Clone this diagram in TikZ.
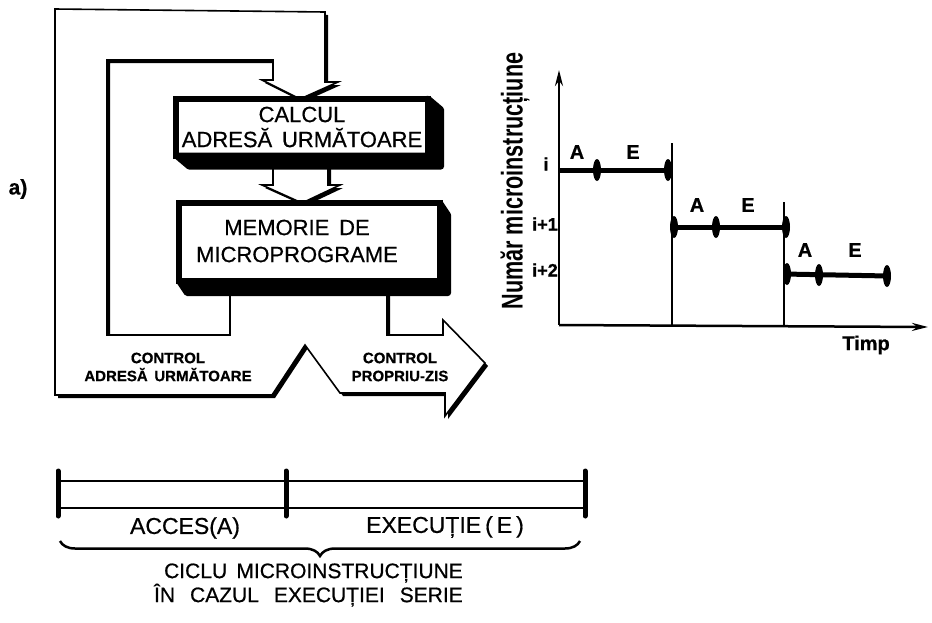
\documentclass[tikz,border=0pt]{standalone}
\usepackage{fontspec}
\setmainfont{Liberation Sans}[WordSpace=1.6,FakeBold=0.6]
\newfontfamily\narrowfont{Liberation Sans}[FakeStretch=0.72]
\usetikzlibrary{shadows,decorations.pathreplacing,arrows.meta}

\tikzset{
  band/.style={draw, line width=1.6, fill=white, line join=miter,
    drop shadow={shadow xshift=3pt,shadow yshift=-3pt,opacity=1,fill=black}},
  face/.style={draw, line width=6, fill=white, inner sep=0pt, outer sep=0pt},
  depth/.style={fill=black, draw, line width=6, line join=round},
  boxtext/.style={font=\fontsize{22}{25}\selectfont, align=center},
  smalltext/.style={font=\fontsize{15}{18}\selectfont\bfseries, align=center},
  phasetext/.style={font=\fontsize{20}{20}\selectfont\bfseries},
  ticktext/.style={font=\fontsize{18}{18}\selectfont\bfseries},
  level/.style={line width=5},
  axis/.style={line width=2.5, -{Stealth[length=16pt,width=8pt]}},
  cut/.style={line width=1.2},
  bar/.style={line width=5, line cap=round}
}

\begin{document}
\begin{tikzpicture}[x=1pt,y=-1pt]
\useasboundingbox (0,0) rectangle (932,622);

\node[font=\fontsize{21}{21}\selectfont\bfseries] (tag) at (18,189) {a)};

% the feedback channel and the output arrow
\path[band] (230,290) -- (230,335) -- (107,335) -- (107,60) -- (273,60) -- (273,80)
  -- (262,80) -- (300,99) -- (338,82) -- (325,82) -- (325,12) -- (55,9) -- (55,395)
  -- (272,395) -- (305,345) -- (340,393) -- (445,393) -- (445,416) -- (485,363)
  -- (443,320) -- (443,335) -- (387,335) -- (387,290) -- cycle;
\path[band] (273,160) -- (273,185) -- (262,185) -- (302,203) -- (340,185)
  -- (328,185) -- (328,160) -- cycle;

% blocks
\node[face, minimum width=252, minimum height=57, boxtext] (calc) at (302,127)
  {CALCUL\\ADRESĂ URMĂTOARE};
\node[face, minimum width=261, minimum height=78] (mem) at (309.5,242) {};
\foreach \b/\dx/\dy in {calc/13/11, mem/8/12}
  \filldraw[depth] (\b.south west) -- ([shift={(\dx,\dy)}]\b.south west)
    -- ([shift={(\dx,\dy)}]\b.south east) -- ([shift={(\dx,\dy)}]\b.north east)
    -- (\b.north east) -- (\b.south east) -- cycle;
\node[boxtext, font=\fontsize{22}{27}\selectfont] (memtext) at (297,241)
  {MEMORIE DE\\MICROPROGRAME};

\node[smalltext] (ctrladr) at (168,367) {CONTROL\\ADRESĂ URMĂTOARE};
\node[smalltext] (ctrlown) at (400,367) {CONTROL\\PROPRIU-ZIS};

% timing graph
\coordinate (org) at (559,325);
\coordinate (ytip) at (559,70);
\coordinate (xtip) at (928,327);
\draw[axis] (org) -- (ytip);
\draw[axis] (org) -- (xtip);
\node[rotate=90, font=\narrowfont\bfseries\fontsize{30}{30}\selectfont] (ylab)
  at (515,181) {Număr microinstrucțiune};
\node[font=\fontsize{20}{20}\selectfont\bfseries] (xlab) at (866,345) {Timp};

\node[ticktext] (ti) at (546,164) {i};
\node[ticktext] (ti1) at (545,224) {i+1};
\node[ticktext] (ti2) at (545,270) {i+2};

\draw[cut] (672,143) -- (672,325);
\draw[cut] (784,202) -- (784,325);

\draw[level] (559,170) -- (670,170);
\draw[level] (672,227) -- (786,227);
\draw[level] (784,274) -- (888,276);
\foreach \x/\y in {597/170, 668/170, 674/227, 716/227, 786/227, 787/274, 819/275, 887/276}
  \fill (\x,\y) ellipse (4 and 11);

\foreach \x/\y/\t [count=\i] in {577/152/A, 633/152/E, 697/205/A, 748/205/E, 805/250/A, 855/250/E}
  \node[phasetext] (ph\i) at (\x,\y) {\t};

% cycle bar
\draw[line width=2.5] (58,481) -- (585,481);
\draw[line width=2.5] (58,508) -- (585,508);
\foreach \x in {58,286,585}
  \draw[bar] (\x,471) -- (\x,516);
\node[font=\fontsize{23}{23}\selectfont] (acc) at (185,528) {ACCES(A)};
\node[font=\fontsize{23}{23}\selectfont] (exe) at (445,527) {\spaceskip=4pt EXECUȚIE ( E )};
\draw[line width=2.5, decorate, decoration={brace, mirror, amplitude=15}]
  (60,541) -- (580,541);
\node[font=\fontsize{21}{24}\selectfont, align=right, anchor=east, inner sep=0pt]
  (cyc) at (463,585) {CICLU MICROINSTRUCȚIUNE\\{\spaceskip=15pt ÎN CAZUL EXECUȚIEI SERIE}};
\end{tikzpicture}
\end{document}
